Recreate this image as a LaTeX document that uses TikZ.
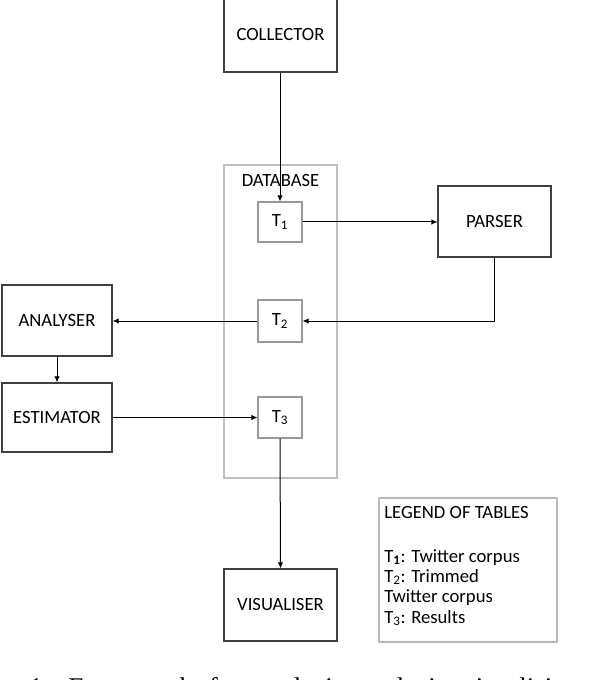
\documentclass[tikz,border=0pt]{standalone}
\usepackage{fontspec}
\setmainfont{Carlito}
\newfontfamily\capserif{Liberation Serif}
\usetikzlibrary{arrows.meta}
\newcommand\boxfnt{\fontsize{14}{16.5}\selectfont}
\begin{document}
\begin{tikzpicture}[x=0.75pt,y=-0.75pt,
  mainbox/.style={draw=black!75, line width=0.8pt, fill=white, inner sep=0pt, font=\boxfnt},
  tbox/.style={draw=black!40, line width=0.8pt, fill=white, inner sep=0pt, font=\boxfnt, minimum width=33pt},
  lightbox/.style={draw=black!25, line width=0.8pt, inner sep=0pt},
  arr/.style={-{Latex[length=4.5pt,width=4pt]}, line width=0.75pt, black},
  txt/.style={inner sep=0pt, font=\boxfnt}]
\useasboundingbox (0,0) rectangle (594,680);

% database container
\node[lightbox, minimum width=84.75pt, minimum height=234.75pt] (db) at (280.5,321.5) {};
\node[txt] (dblabel) at (280.5,181) {DATABASE};

% main boxes
\node[mainbox, minimum width=84.75pt, minimum height=55.5pt] (collector) at (280.5,35) {COLLECTOR};
\node[mainbox, minimum width=84.75pt, minimum height=53.25pt] (parser) at (494.5,221.5) {PARSER};
\node[mainbox, minimum width=82.5pt, minimum height=53.25pt] (analyser) at (57,320.5) {ANALYSER};
\node[mainbox, minimum width=82.5pt, minimum height=51.75pt] (estimator) at (57,417.5) {ESTIMATOR};
\node[mainbox, minimum width=84.75pt, minimum height=54pt] (visualiser) at (280.5,605) {VISUALISER};

% tables
\node[tbox, minimum height=30pt] (t1) at (280,222) {T\textsubscript{1}};
\node[tbox, minimum height=31.5pt] (t2) at (280,321) {T\textsubscript{2}};
\node[tbox, minimum height=30.75pt] (t3) at (280,417.5) {T\textsubscript{3}};

% connectors
\draw[arr] (collector.south -| t1.north) -- (t1.north);
\draw[arr] (t1.east) -- (t1.east -| parser.west);
\draw[arr] (parser.south) |- (t2.east);
\draw[arr] (t2.west) -- (t2.west -| analyser.east);
\draw[arr] (analyser.south) -- (estimator.north);
\draw[arr] (estimator.east) -- (estimator.east -| t3.west);
\draw[arr] (t3.south) -- (visualiser.north);

% legend
\node[lightbox, draw=black!28, minimum width=133.5pt, minimum height=108pt] (legend) at (468,570) {};
\node[txt, anchor=base west] (lg0) at (384,518) {LEGEND OF TABLES};
\node[txt, anchor=base west] (lg1) at (384,562) {T\textsubscript{\textbf{1}}: Twitter corpus};
\node[txt, anchor=base west] (lg2) at (384,582) {T\textsubscript{2}: Trimmed};
\node[txt, anchor=base west] (lg3) at (384,602) {Twitter corpus};
\node[txt, anchor=base west] (lg4) at (384,623) {T\textsubscript{3}: Results};

% clipped caption
\begin{scope}
\clip (0,0) rectangle (594,680);
\node[inner sep=0pt, anchor=base west] (caption) at (29,696)
  {\capserif\fontsize{20.25}{24}\selectfont\spaceskip=12pt 1: Framework for analysis analysis visualising model};
\end{scope}
\end{tikzpicture}
\end{document}
